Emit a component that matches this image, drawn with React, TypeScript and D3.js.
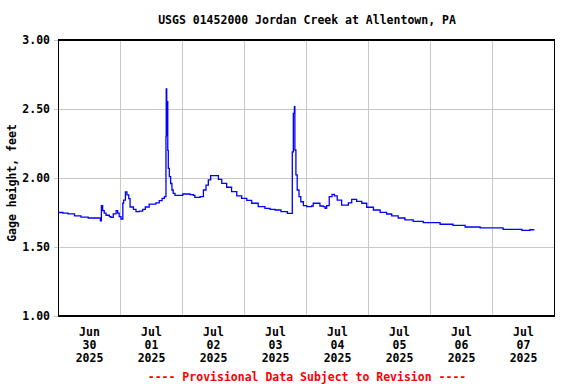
import { useEffect, useRef } from "react";
import * as d3 from "d3";

// hours after 2025-06-30 00:00, gage height in feet
const HOURS = [
  0, 1.7, 3.7, 6.2, 8.7, 11.5, 16.2, 16.6, 17.1, 17.7, 18.4, 19.7, 20.3, 21.2, 22.3, 22.9,
  23.5, 24.2, 24.9, 25.2, 25.9, 26.5, 27.2, 27.7, 29.0, 30.0, 31.3, 32.6, 33.6, 35.1, 37.7,
  39.0, 40.1, 41.0, 41.5, 41.6, 41.7, 41.9, 42.0, 42.3, 42.5, 42.9, 43.4, 43.9, 44.4, 45.1,
  48.1, 50.9, 52.2, 52.8, 54.8, 56.1, 57.1, 58.0, 58.9, 60.6, 61.9, 63.2, 65.1, 67.0, 69.0,
  70.9, 72.9, 74.8, 77.3, 79.9, 81.9, 83.8, 86.1, 88.6, 90.3, 90.5, 90.9, 91.3, 91.5, 91.9,
  92.4, 93.1, 93.8, 94.8, 96.1, 98.0, 98.6, 100.6, 101.2, 102.5, 103.2, 103.8, 104.8, 105.9,
  106.8, 107.9, 109.6, 111.6, 112.2, 113.5, 114.8, 115.4, 117.4, 119.3, 121.9, 124.5, 127.0,
  129.0, 131.5, 134.1, 137.3, 141.2, 147.7, 152.7, 157.4, 163.2, 172.1, 179.4, 182.5, 184.2
];
const GAGE = [
  1.75, 1.745, 1.74, 1.725, 1.717, 1.71, 1.69, 1.80, 1.763, 1.745, 1.73, 1.72, 1.715, 1.74, 1.763, 1.745,
  1.72, 1.703, 1.817, 1.84, 1.90, 1.877, 1.85, 1.79, 1.773, 1.756, 1.76, 1.773, 1.79, 1.81, 1.82,
  1.836, 1.853, 1.865, 1.865, 2.30, 2.645, 2.31, 2.553, 2.20, 2.07, 2.01, 1.96, 1.913, 1.889, 1.874,
  1.884, 1.88, 1.874, 1.86, 1.865, 1.913, 1.949, 1.986, 2.017, 2.017, 1.99, 1.961, 1.933, 1.901, 1.87,
  1.853, 1.838, 1.817, 1.792, 1.78, 1.773, 1.768, 1.756, 1.744, 1.744, 2.19, 2.469, 2.517, 2.203, 2.022,
  1.913, 1.865, 1.828, 1.80, 1.792, 1.797, 1.817, 1.817, 1.797, 1.792, 1.78, 1.80, 1.865, 1.882,
  1.87, 1.84, 1.804, 1.804, 1.82, 1.845, 1.845, 1.83, 1.817, 1.788, 1.768, 1.751, 1.739,
  1.725, 1.71, 1.696, 1.686, 1.676, 1.665, 1.657, 1.645, 1.638, 1.628, 1.62, 1.625, 1.625
];

const Y_TICKS = [1.0, 1.5, 2.0, 2.5, 3.0];
const DAY_LABELS = [
  ["Jun", "30", "2025"], ["Jul", "01", "2025"], ["Jul", "02", "2025"], ["Jul", "03", "2025"],
  ["Jul", "04", "2025"], ["Jul", "05", "2025"], ["Jul", "06", "2025"], ["Jul", "07", "2025"]
];

const TITLE = "USGS 01452000 Jordan Creek at Allentown, PA";
const Y_LABEL = "Gage height, feet";
const FOOTER = "---- Provisional Data Subject to Revision ----";

const FONT = "'DejaVu Sans Mono', 'Liberation Mono', monospace";

export default function App() {
  const ref = useRef<SVGSVGElement | null>(null);

  useEffect(() => {
    const w = 576, h = 384, m = { top: 40, right: 21.5, bottom: 68, left: 58.5 };
    const svg = d3.select(ref.current).attr("width", w).attr("height", h);
    svg.selectAll("*").remove();

    const start = new Date(2025, 5, 30);
    const end = d3.timeDay.offset(start, 8);
    const x = d3.scaleTime().domain([start, end]).range([m.left, w - m.right]);
    const y = d3.scaleLinear().domain([1, 3]).range([h - m.bottom, m.top]);

    svg.append("rect").attr("width", w).attr("height", h).attr("fill", "#fff");

    const g = svg.append("g").attr("shape-rendering", "crispEdges");

    // horizontal grid + left ticks
    g.selectAll("line.hg")
      .data(Y_TICKS)
      .join("line")
      .attr("class", "hg")
      .attr("x1", m.left - 5)
      .attr("x2", w - m.right)
      .attr("y1", (d) => y(d))
      .attr("y2", (d) => y(d))
      .attr("stroke", "#c8c8c8");

    // vertical grid at midnights
    const days = d3.timeDay.range(d3.timeDay.offset(start, 1), end);
    g.selectAll("line.vg")
      .data(days)
      .join("line")
      .attr("class", "vg")
      .attr("x1", (d) => x(d))
      .attr("x2", (d) => x(d))
      .attr("y1", m.top)
      .attr("y2", h - m.bottom)
      .attr("stroke", "#c8c8c8");

    // data line
    const pts = HOURS.map((hr, i) => [new Date(+start + hr * 3600e3), GAGE[i]] as [Date, number]);
    const line = d3.line<[Date, number]>()
      .x((d) => x(d[0]))
      .y((d) => y(d[1]))
      .curve(d3.curveStepAfter);
    svg.append("path")
      .datum(pts)
      .attr("d", line)
      .attr("fill", "none")
      .attr("stroke", "#0000ff")
      .attr("stroke-width", 1.3);

    // frame
    g.append("rect")
      .attr("x", m.left)
      .attr("y", m.top)
      .attr("width", w - m.left - m.right)
      .attr("height", h - m.top - m.bottom)
      .attr("fill", "none")
      .attr("stroke", "#000")
      .attr("stroke-width", 1.5);

    const txt = svg.append("g")
      .attr("font-family", FONT)
      .attr("font-weight", "bold")
      .attr("font-size", 11.5)
      .attr("fill", "#000");

    txt.append("text")
      .attr("x", 307)
      .attr("y", 24)
      .attr("text-anchor", "middle")
      .text(TITLE);

    txt.selectAll("text.yt")
      .data(Y_TICKS)
      .join("text")
      .attr("class", "yt")
      .attr("x", 50)
      .attr("y", (d) => y(d) + 4)
      .attr("text-anchor", "end")
      .text((d) => d3.format(".2f")(d));

    txt.append("text")
      .attr("transform", "translate(16,183) rotate(-90)")
      .attr("text-anchor", "middle")
      .text(Y_LABEL);

    const noons = d3.timeDay.range(start, end).map((d) => d3.timeHour.offset(d, 12));
    const lbl = txt.selectAll("text.xt")
      .data(noons)
      .join("text")
      .attr("class", "xt")
      .attr("text-anchor", "middle")
      .attr("y", 335.5);
    lbl.selectAll("tspan")
      .data((_, i) => DAY_LABELS[i])
      .join("tspan")
      .attr("x", function () {
        const p = (this as SVGTSpanElement).parentNode as SVGTextElement;
        return x(d3.select(p).datum() as Date);
      })
      .attr("dy", (_, i) => (i === 0 ? 0 : 13))
      .text((d) => d);

    txt.append("text")
      .attr("x", 307)
      .attr("y", 381)
      .attr("text-anchor", "middle")
      .attr("fill", "#ff0000")
      .text(FOOTER);
  }, []);

  return (
    <div style={{ position: "absolute", left: 0, top: 0 }}>
      <svg ref={ref} style={{ display: "block" }} />
    </div>
  );
}
